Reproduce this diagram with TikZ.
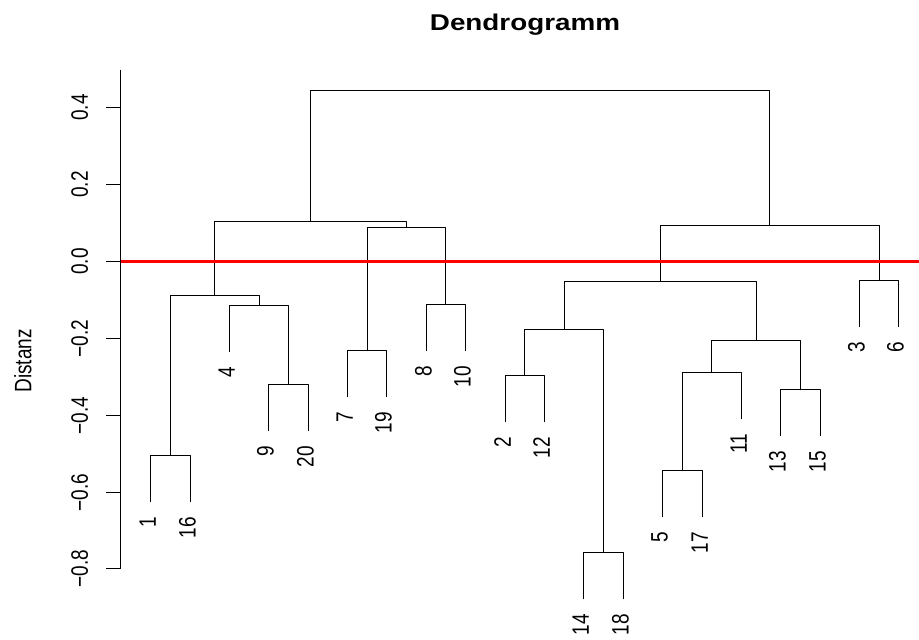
\documentclass[tikz,border=0pt]{standalone}
\usepackage{fontspec}
\setmainfont{Liberation Sans}
\usepackage{graphicx}
\definecolor{cutred}{RGB}{255,0,0}
% rotated, horizontally widened label text
\newcommand\vlab[1]{\scalebox{1.25}[1]{\rotatebox{90}{#1}}}
\newcommand\labfont{\fontsize{19}{19}\selectfont}
\begin{document}
\begin{tikzpicture}[x=1pt,y=-1pt,
  tree/.style={line width=1.4pt,line cap=round,line join=round,draw=black},
  axisline/.style={line width=1.4pt,draw=black},
  cutline/.style={line width=2.2pt,draw=cutred},
  leaflab/.style={inner sep=0pt,anchor=north east,font=\labfont},
  ticklab/.style={inner sep=0pt,anchor=east,font=\labfont},
  titlelab/.style={inner sep=0pt,anchor=base,font=\fontsize{22.8}{22.8}\selectfont\bfseries}]

\fill[white] (0,0) rectangle (919,640);
\useasboundingbox (0,0) rectangle (919,640);

% title
\node[titlelab] (title) at (525,30.7) {\scalebox{1.22}[1]{Dendrogramm}};

% y axis
\coordinate (axtop) at (120.5,69.5);
\coordinate (axbot) at (120.5,568.5);
\draw[axisline] (axtop) -- (axbot);
\foreach \i/\y/\t in {1/107.5/0.4, 2/184.5/0.2, 3/261.5/0.0, 4/338.5/−0.2,
                      5/415.5/−0.4, 6/492.5/−0.6, 7/568.5/−0.8} {
  \coordinate (tk\i) at (120.5,\y);
  \coordinate (tkend\i) at (106,\y);
  \draw[axisline] (tk\i) -- (tkend\i);
  \node[ticklab] (tl\i) at (88.3,\y) {\vlab{\t}};
}
\node[ticklab] (ylab) at (31.7,361) {\vlab{Distanz}};

% leaves: label / x position / lower end of the leaf line
\foreach \n/\x/\b in {1/150.5/501.5, 16/190.5/501.5, 4/229.5/351.5,
    9/268.5/430.5, 20/308.5/430.5, 7/347.5/396.5, 19/386.5/396.5,
    8/426.5/350.5, 10/465.5/350.5, 2/505.5/421.5, 12/544.5/421.5,
    14/583.5/598.5, 18/623.5/598.5, 5/662.5/516.5, 17/702.5/516.5,
    11/741.5/418.5, 13/780.5/435.5, 15/820.5/435.5, 3/859.5/326.5,
    6/898.5/326.5} {
  \coordinate (p\n) at (\x,\b);
  \node[leaflab] (l\n) at ([shift={(5.5,15.5)}]p\n) {\vlab{\n}};
}

% merge points (centre of the children, merge height)
\coordinate (mA1)  at (170.5,455.5);
\coordinate (mA2)  at (288.5,384.5);
\coordinate (mA3)  at (259.5,305.5);
\coordinate (mA)   at (214.5,295.5);
\coordinate (mB1)  at (367.5,350.5);
\coordinate (mB2)  at (445.5,304.5);
\coordinate (mB)   at (406.5,227.5);
\coordinate (mL)   at (310.5,221.5);
\coordinate (mC1)  at (524.5,375.5);
\coordinate (mC2)  at (603.5,552.5);
\coordinate (mC)   at (564.5,329.5);
\coordinate (mD1)  at (682.5,470.5);
\coordinate (mD2)  at (711.5,372.5);
\coordinate (mD3)  at (800.5,389.5);
\coordinate (mD)   at (756.5,340.5);
\coordinate (mE)   at (660.5,281.5);
\coordinate (mF)   at (879.5,280.5);
\coordinate (mR)   at (769.5,225.5);
\coordinate (root) at (540.5,90.5);

% tree
\draw[tree] (p1)  |- (mA1) -| (p16);
\draw[tree] (p9)  |- (mA2) -| (p20);
\draw[tree] (p4)  |- (mA3) -| (mA2);
\draw[tree] (mA1) |- (mA)  -| (mA3);
\draw[tree] (p7)  |- (mB1) -| (p19);
\draw[tree] (p8)  |- (mB2) -| (p10);
\draw[tree] (mB1) |- (mB)  -| (mB2);
\draw[tree] (mA)  |- (mL)  -| (mB);
\draw[tree] (p2)  |- (mC1) -| (p12);
\draw[tree] (p14) |- (mC2) -| (p18);
\draw[tree] (mC1) |- (mC)  -| (mC2);
\draw[tree] (p5)  |- (mD1) -| (p17);
\draw[tree] (mD1) |- (mD2) -| (p11);
\draw[tree] (p13) |- (mD3) -| (p15);
\draw[tree] (mD2) |- (mD)  -| (mD3);
\draw[tree] (mC)  |- (mE)  -| (mD);
\draw[tree] (p3)  |- (mF)  -| (p6);
\draw[tree] (mE)  |- (mR)  -| (mF);
\draw[tree] (mL)  |- (root) -| (mR);

% cut line at distance 0
\coordinate (cutend) at (919,261.5);
\draw[cutline] (tk3) -- (cutend);
\end{tikzpicture}
\end{document}
